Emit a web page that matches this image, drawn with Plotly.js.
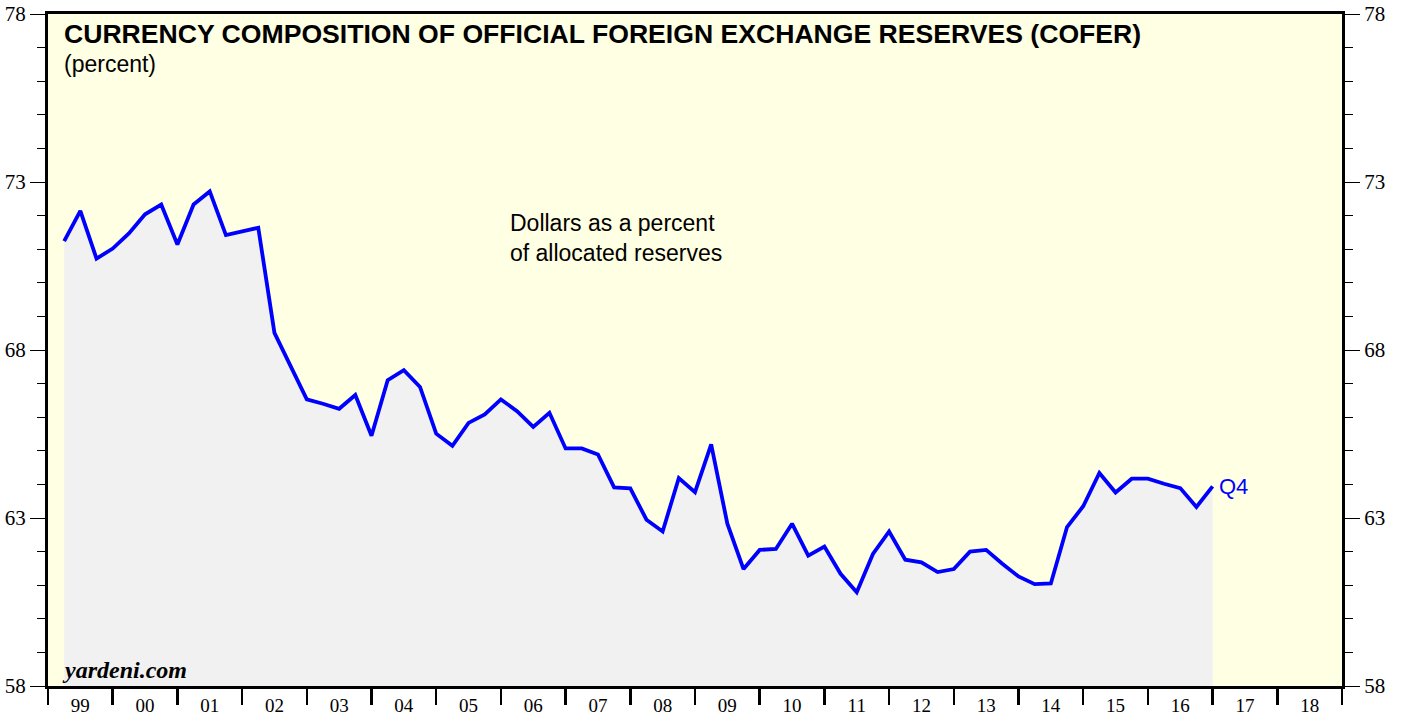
<!DOCTYPE html>
<html>
<head>
<meta charset="utf-8">
<script src="https://cdn.plot.ly/plotly-3.0.1.min.js"></script>
<style>
html,body{margin:0;padding:0;background:#fff;}
#chart{width:1403px;height:715px;}
</style>
</head>
<body>
<div id="chart"></div>
<script>
// Quarterly data, 1999 Q1 .. 2016 Q4 (USD share of allocated reserves, %)
const startYear = 1999;
const usdShare = [
  71.24, 72.14, 70.72, 71.02, 71.47, 72.04, 72.33, 71.14,
  72.33, 72.72, 71.42, 71.53, 71.64, 68.51, 67.52, 66.53,
  66.40, 66.25, 66.66, 65.45, 67.10, 67.40, 66.90, 65.51,
  65.15, 65.83, 66.08, 66.53, 66.18, 65.71, 66.13, 65.07,
  65.07, 64.89, 63.91, 63.88, 62.95, 62.60, 64.19, 63.77,
  65.19, 62.83, 61.48, 62.05, 62.08, 62.83, 61.88, 62.15,
  61.34, 60.79, 61.93, 62.60, 61.76, 61.68, 61.39, 61.48,
  62.00, 62.05, 61.64, 61.26, 61.03, 61.05, 62.73, 63.35,
  64.34, 63.76, 64.17, 64.17, 64.02, 63.89, 63.33, 63.94
];
// x positions: end of each quarter in fractional years
const quarterX = usdShare.map((_, i) => startYear + (i + 1) / 4);

const yearLabels = ["99","00","01","02","03","04","05","06","07","08","09","10","11","12","13","14","15","16","17","18"];
const yearLabelPos = yearLabels.map((_, i) => startYear + i + 0.5);
const yTicks = [58, 63, 68, 73, 78];

const titleText = "CURRENCY COMPOSITION OF OFFICIAL FOREIGN EXCHANGE RESERVES (COFER)";
const subtitleText = "(percent)";
const noteLines = ["Dollars as a percent", "of allocated reserves"];
const sourceText = "yardeni.com";
const lastLabel = "Q4";

const serif = "Liberation Serif, Times New Roman, serif";
const sans = "Liberation Sans, Arial, Helvetica, sans-serif";

const traces = [
  {
    x: quarterX, y: usdShare, type: "scatter", mode: "lines",
    fill: "tozeroy", fillcolor: "#f1f1f1",
    line: {color: "#0000ff", width: 3.8},
    hoverinfo: "skip", showlegend: false
  },
  {
    x: [quarterX[0]], y: [usdShare[0]], yaxis: "y2", type: "scatter", mode: "markers",
    marker: {opacity: 0}, hoverinfo: "skip", showlegend: false
  }
];

const yCommon = {
  range: [58, 78], tickvals: yTicks, ticktext: yTicks.map(String),
  ticks: "outside", ticklen: 15, tickwidth: 1, tickcolor: "#000",
  minor: {dtick: 1, tick0: 58, ticks: "outside", ticklen: 8, tickwidth: 1, tickcolor: "#000", showgrid: false},
  showgrid: false, zeroline: false,
  showline: true, linecolor: "#000", linewidth: 3,
  tickfont: {family: serif, size: 21, color: "#000"},
  fixedrange: true
};

const layout = {
  width: 1403, height: 715,
  margin: {l: 48, r: 61, t: 14, b: 29, pad: 0},
  paper_bgcolor: "#ffffff",
  plot_bgcolor: "#ffffe3",
  showlegend: false,
  xaxis: {
    range: [1999, 2019],
    tickvals: yearLabelPos, ticktext: yearLabels,
    ticks: "", ticklen: 0,
    minor: {tick0: 1999, dtick: 1, ticks: "outside", ticklen: 16, tickwidth: 2.5, tickcolor: "#000", showgrid: false},
    showgrid: false, zeroline: false,
    showline: true, linecolor: "#000", linewidth: 3, mirror: true,
    tickfont: {family: serif, size: 19, color: "#000"},
    fixedrange: true
  },
  yaxis: Object.assign({}, yCommon, {side: "left"}),
  yaxis2: Object.assign({}, yCommon, {side: "right", overlaying: "y"}),
  annotations: [
    {xref: "paper", yref: "paper", x: 0.0108, y: 0.9705, xanchor: "left", yanchor: "middle",
     text: "<b>" + titleText + "</b>", showarrow: false,
     font: {family: sans, size: 26.6, color: "#000"}},
    {xref: "paper", yref: "paper", x: 0.0108, y: 0.926, xanchor: "left", yanchor: "middle",
     text: subtitleText, showarrow: false,
     font: {family: sans, size: 23, color: "#000"}},
    {xref: "paper", yref: "paper", x: 0.3555, y: 0.6665, xanchor: "left", yanchor: "middle",
     text: noteLines.join("<br>"), showarrow: false, align: "left",
     font: {family: sans, size: 23, color: "#000"}},
    {xref: "paper", yref: "paper", x: 0.0095, y: 0.0235, xanchor: "left", yanchor: "middle",
     text: "<b><i>" + sourceText + "</i></b>", showarrow: false,
     font: {family: serif, size: 24, color: "#000"}},
    {xref: "x", yref: "y", x: quarterX[quarterX.length - 1], y: usdShare[usdShare.length - 1],
     xanchor: "left", yanchor: "middle", xshift: 4,
     text: lastLabel, showarrow: false,
     font: {family: sans, size: 22, color: "#0000ff"}}
  ]
};

Plotly.newPlot("chart", traces, layout, {displayModeBar: false, staticPlot: true});
</script>
</body>
</html>
